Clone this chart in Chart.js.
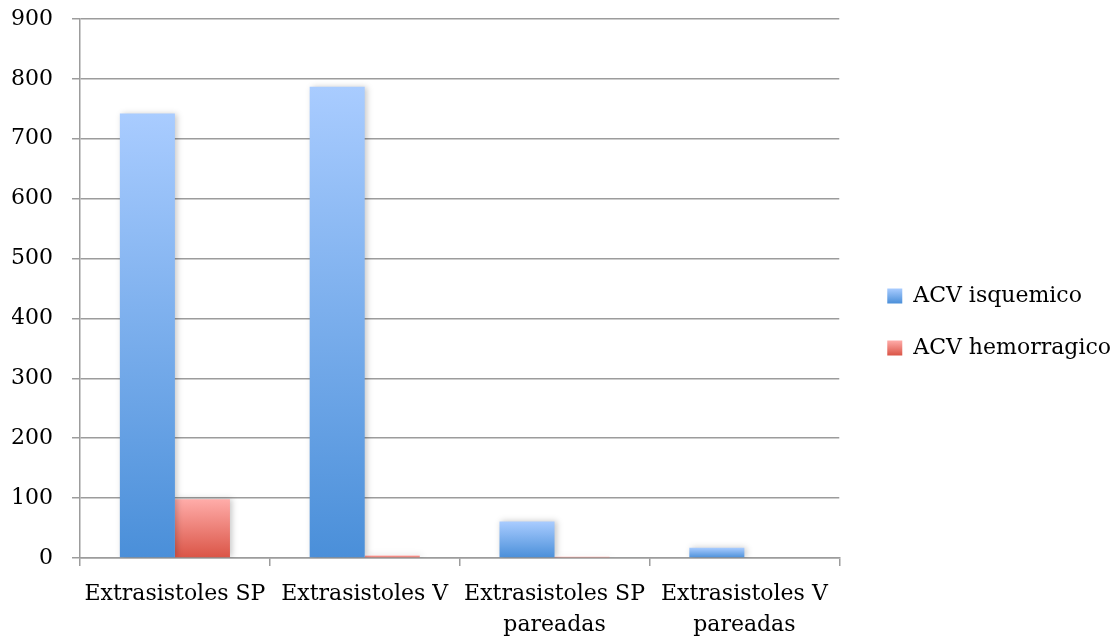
<!DOCTYPE html>
<html>
<head>
<meta charset="utf-8">
<script src="https://cdn.jsdelivr.net/npm/chart.js@4"></script>
<style>
  html, body { margin: 0; padding: 0; background: #fff; }
  #wrap { width: 1112px; height: 639px; position: relative; }
</style>
</head>
<body>
<div id="wrap"><canvas id="chart"></canvas></div>
<script>
const categorias = [
  'Extrasistoles SP',
  'Extrasistoles V',
  ['Extrasistoles SP', 'pareadas'],
  ['Extrasistoles V', 'pareadas']
];
const isquemico   = [742, 787, 61, 17];
const hemorragico = [98, 4, 2, 0];
const yTicks = [0, 100, 200, 300, 400, 500, 600, 700, 800, 900];

const FONT = { family: '"DejaVu Serif", serif', size: 22 };
const GRIS = '#9c9c9c';

// colores de arriba -> abajo
const azul = ['#a9ccff', '#4a8fd9'];
const rojo = ['#ffaca9', '#da5446'];

function barGradient(colors) {
  return (c) => {
    const chart = c.chart;
    const { ctx, chartArea, scales } = chart;
    if (!chartArea || !scales.y || c.raw == null) return colors[1];
    const y0 = scales.y.getPixelForValue(0);
    const y1 = scales.y.getPixelForValue(c.raw);
    if (Math.abs(y0 - y1) < 1) return colors[1];
    const g = ctx.createLinearGradient(0, y1, 0, y0);
    g.addColorStop(0, colors[0]);
    g.addColorStop(1, colors[1]);
    return g;
  };
}

// sombra suave detras de las barras
const sombraBarras = {
  id: 'sombraBarras',
  beforeDatasetsDraw(chart) {
    const ctx = chart.ctx;
    ctx.save();
    ctx.shadowColor = 'rgba(0,0,0,0.22)';
    ctx.shadowBlur = 6;
    ctx.shadowOffsetX = 2;
    ctx.shadowOffsetY = 0;
  },
  afterDatasetsDraw(chart) {
    chart.ctx.restore();
  }
};

// cuadritos de la leyenda con degradado
const leyendaDegradado = {
  id: 'leyendaDegradado',
  afterDraw(chart) {
    const legend = chart.legend;
    if (!legend || !legend.legendHitBoxes) return;
    const ctx = chart.ctx;
    const sets = [azul, rojo];
    const bw = legend.options.labels.boxWidth;
    const bh = legend.options.labels.boxHeight;
    legend.legendHitBoxes.forEach((hb, i) => {
      const x = hb.left;
      const y = hb.top + (hb.height - bh) / 2;
      const g = ctx.createLinearGradient(0, y, 0, y + bh);
      g.addColorStop(0, sets[i][0]);
      g.addColorStop(1, sets[i][1]);
      ctx.save();
      ctx.fillStyle = '#fff';
      ctx.fillRect(x - 1, y - 1, bw + 2, bh + 2);
      ctx.fillStyle = g;
      ctx.fillRect(x, y, bw, bh);
      ctx.restore();
    });
  }
};

new Chart(document.getElementById('chart'), {
  type: 'bar',
  data: {
    labels: categorias,
    datasets: [
      { label: 'ACV isquemico',   data: isquemico,   backgroundColor: barGradient(azul) },
      { label: 'ACV hemorragico', data: hemorragico, backgroundColor: barGradient(rojo) }
    ]
  },
  options: {
    responsive: true,
    maintainAspectRatio: false,
    animation: false,
    devicePixelRatio: 1,
    layout: { padding: { left: 12, top: 5, right: -9, bottom: 0 } },
    datasets: {
      bar: { categoryPercentage: 0.58, barPercentage: 1.0, borderWidth: 0 }
    },
    scales: {
      x: {
        grid: { display: true, drawOnChartArea: false, drawTicks: true, tickLength: 8, color: GRIS, lineWidth: 1.5 },
        border: { display: true, color: GRIS, width: 1.5 },
        ticks: { color: '#000', font: { ...FONT, lineHeight: 1.41 }, padding: 13, maxRotation: 0, autoSkip: false },
        afterFit: (s) => { s.height = 81; s.paddingLeft = 0; s.paddingRight = 0; }
      },
      y: {
        min: 0,
        max: 900,
        afterBuildTicks: (axis) => { axis.ticks = yTicks.map(v => ({ value: v })); },
        grid: { color: GRIS, lineWidth: 1.5, tickLength: 8 },
        border: { display: true, color: GRIS, width: 1.5 },
        ticks: { color: '#000', font: FONT, padding: 19 },
        afterFit: (s) => { s.width = 68; s.paddingTop = 19; s.paddingBottom = 0; }
      },
      // espacio en blanco entre el grafico y la leyenda
      hueco: {
        position: 'right',
        display: true,
        grid: { display: false },
        border: { display: false },
        ticks: { display: false },
        afterFit: (s) => { s.width = 18; s.paddingTop = 0; s.paddingBottom = 0; }
      }
    },
    plugins: {
      legend: {
        position: 'right',
        maxWidth: 300,
        labels: {
          color: '#000',
          font: FONT,
          boxWidth: 15,
          boxHeight: 15,
          padding: 30
        }
      },
      tooltip: { enabled: false }
    }
  },
  plugins: [sombraBarras, leyendaDegradado]
});
</script>
</body>
</html>
